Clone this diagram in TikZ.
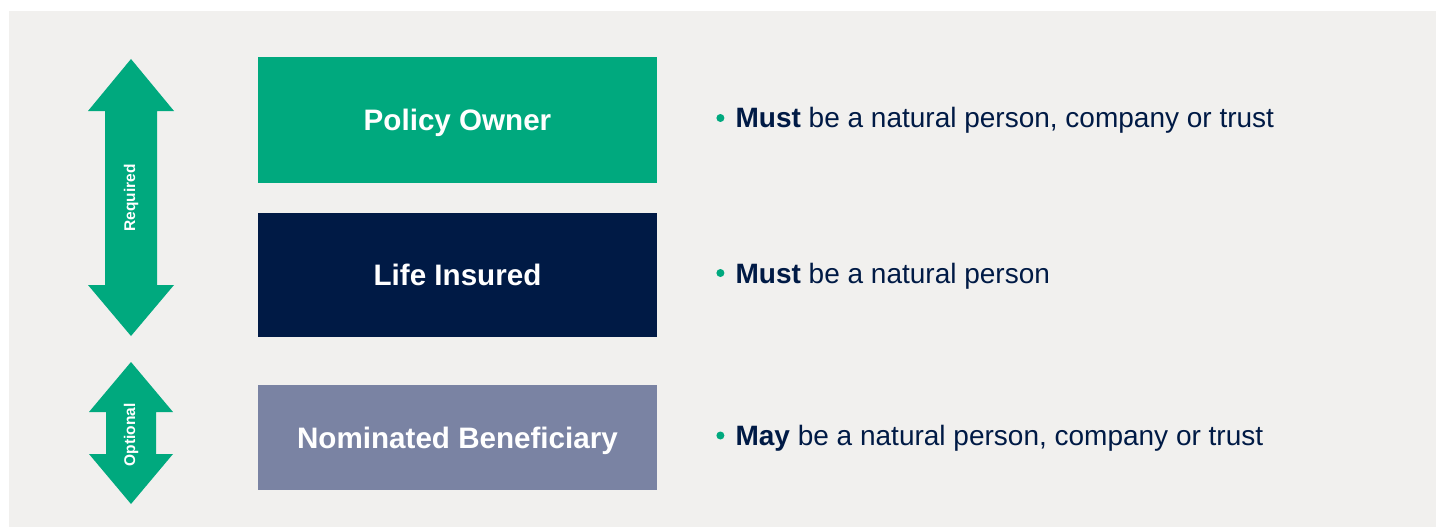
\documentclass[tikz,border=0pt]{standalone}
\usepackage{fontspec}
\setmainfont{Liberation Sans}
\usetikzlibrary{positioning}
\definecolor{bggray}{RGB}{241,240,238}
\definecolor{ptgreen}{RGB}{0,169,126}
\definecolor{ptnavy}{RGB}{0,26,69}
\definecolor{ptslate}{RGB}{122,131,163}
\tikzset{
  rolebox/.style={minimum width=399pt,minimum height=#1,inner sep=0pt,text=white,
    text height=21pt,text depth=0pt,
    font=\fontsize{29.6}{34}\selectfont\bfseries},
  bulletdot/.style={circle,fill=ptgreen,inner sep=0pt,minimum size=8pt},
  roletext/.style={anchor=base west,inner sep=0pt,text=ptnavy,
    font=\fontsize{28}{32}\selectfont},
  sidelabel/.style={rotate=90,text=white,inner sep=0pt,
    font=\fontsize{15.5}{18}\selectfont\bfseries},
}
\begin{document}
\begin{tikzpicture}[x=1pt,y=-1pt]
\useasboundingbox (0,0) rectangle (1436,527);
\fill[bggray] (9,11) rectangle (1436,527);
% double arrows on the left
\fill[ptgreen] (131,59) -- (174,111) -- (157,111) -- (157,285) -- (174,285) -- (131,336)
  -- (88,285) -- (105,285) -- (105,111) -- (88,111) -- cycle;
\node[sidelabel] (req) at (131,198) {Required};
\fill[ptgreen] (131,362) -- (173,412) -- (156,412) -- (156,454) -- (173,454) -- (131,504)
  -- (89,454) -- (106,454) -- (106,412) -- (89,412) -- cycle;
\node[sidelabel] (opt) at (131,435) {Optional};
% roles
\node[rolebox=126pt,fill=ptgreen] (owner) at (457.5,120) {Policy Owner};
\node[rolebox=124pt,fill=ptnavy] (insured) at (457.5,275) {Life Insured};
\node[rolebox=105pt,fill=ptslate] (benef) at (457.5,437.5) {Nominated Beneficiary};
% bullets
\node[bulletdot,right=59pt of owner.east,yshift=2pt] (ownerdot) {};
\node[bulletdot,right=59pt of insured.east,yshift=2pt] (insureddot) {};
\node[bulletdot,right=59pt of benef.east,yshift=2pt] (benefdot) {};
\node[roletext] (ownertext) at ([xshift=15pt,yshift=-10pt]ownerdot.center)
  {\textbf{Must} be a natural person, company or trust};
\node[roletext] (insuredtext) at ([xshift=15pt,yshift=-10pt]insureddot.center)
  {\textbf{Must} be a natural person};
\node[roletext] (beneftext) at ([xshift=15pt,yshift=-10pt]benefdot.center)
  {\textbf{May} be a natural person, company or trust};
\end{tikzpicture}
\end{document}
